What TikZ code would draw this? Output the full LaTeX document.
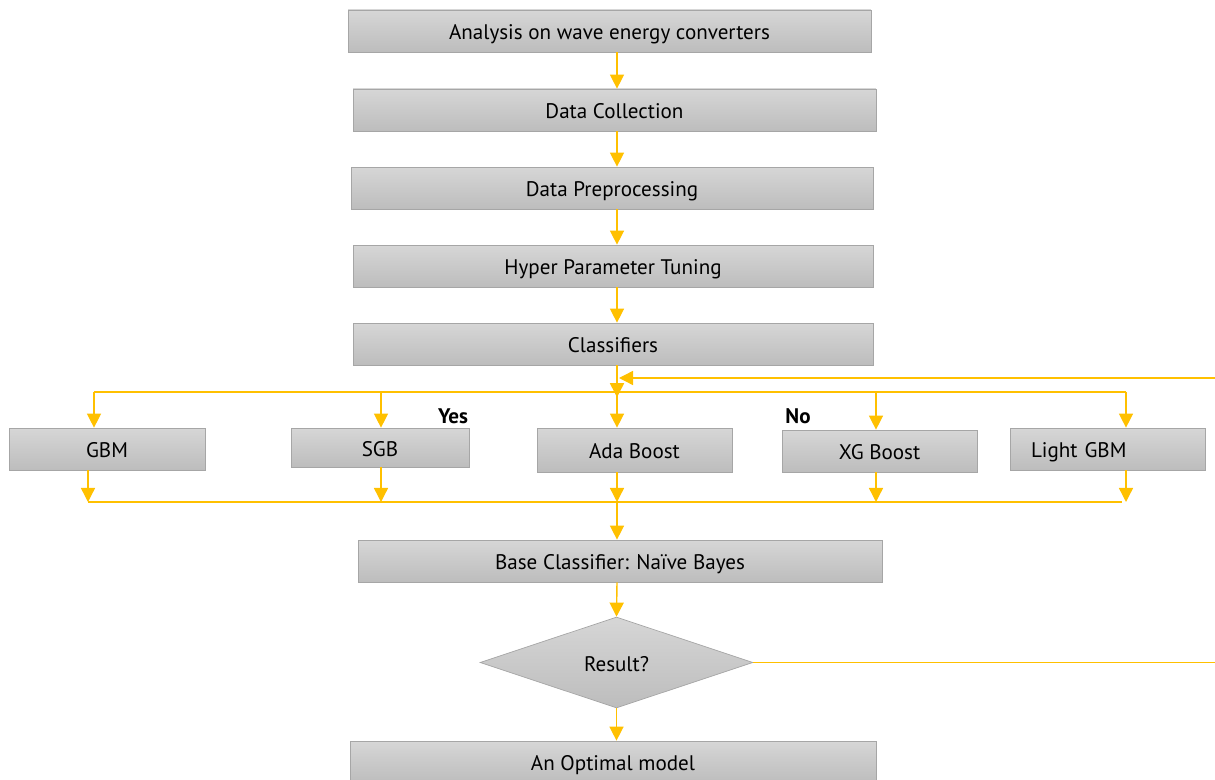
\documentclass[tikz,border=0pt]{standalone}
\usepackage{fontspec}
\setmainfont{PT Sans}
\usetikzlibrary{arrows.meta,shapes.geometric}
\definecolor{gold}{HTML}{FFC000}
\definecolor{boxedge}{HTML}{A6A6A6}
\tikzset{
  stage/.style={draw=boxedge,top color=black!16,bottom color=black!26,inner sep=0pt,text height=2ex,text depth=0ex,font=\fontsize{12}{14}\selectfont},
  decide/.style={stage,diamond,aspect=3},
  wire/.style={draw=gold,line width=0.8pt},
  flow/.style={wire,-{Triangle[length=8pt,width=8pt]}},
  tag/.style={font=\bfseries\fontsize{12}{14}\selectfont}
}
\begin{document}
\begin{tikzpicture}[x=0.02cm,y=-0.02cm]
          \clip (0,0) rectangle (1215,780);
          \node[stage,minimum width=10.46cm,minimum height=0.84cm] (analysis) at (609.5,31) {Analysis on wave energy converters};
          \node[stage,minimum width=10.46cm,minimum height=0.84cm] (collect) at (614.5,110) {Data Collection};
          \node[stage,minimum width=10.44cm,minimum height=0.84cm] (prep) at (612,188) {Data Preprocessing};
          \node[stage,minimum width=10.4cm,minimum height=0.84cm] (tune) at (613,266) {Hyper Parameter Tuning};
          \node[stage,minimum width=10.4cm,minimum height=0.84cm] (classif) at (613,344) {Classifiers};

          \node[stage,minimum width=3.92cm,minimum height=0.84cm] (gbm) at (107,449) {GBM};
          \node[stage,minimum width=3.56cm,minimum height=0.78cm] (sgb) at (380,447.5) {SGB};
          \node[stage,minimum width=3.9cm,minimum height=0.88cm] (ada) at (634.5,450) {Ada Boost};
          \node[stage,minimum width=3.9cm,minimum height=0.84cm] (xg) at (879.5,451) {XG Boost};
          \node[stage,text width=3.06cm,inner xsep=0.42cm,align=left,minimum height=0.84cm] (light) at (1107.5,449) {Light GBM};

          \node[stage,minimum width=10.48cm,minimum height=0.84cm] (base) at (620,561) {Base Classifier: Naïve Bayes};
          \node[decide,minimum width=5.46cm,minimum height=1.82cm] (result) at (616.5,662.5) {Result?};
          \node[stage,minimum width=10.52cm,minimum height=0.84cm] (optimal) at (613,762) {An Optimal model};

          \node[tag] (yes) at (453,416) {Yes};
          \node[tag] (no) at (798,416) {No};

          \coordinate (mid) at (617,0);
          \coordinate (split) at (617,392);
          \coordinate (join) at (617,502);
          \coordinate (back) at (619,378);
          \coordinate (edge) at (1225,0);

          \draw[flow] (analysis.south -| mid) -- (collect.north -| mid);
          \draw[flow] (collect.south -| mid) -- (prep.north -| mid);
          \draw[flow] (prep.south -| mid) -- (tune.north -| mid);
          \draw[flow] (tune.south -| mid) -- (classif.north -| mid);
          \draw[flow] (classif.south -| mid) -- ([yshift=-3pt]split);

          \draw[wire] (94,392) coordinate (s1) -- (1126,392) coordinate (s5);
          \draw[flow] (s1) -- (gbm.north -| s1);
          \draw[flow] (381,392) coordinate (s2) -- (sgb.north -| s2);
          \draw[flow] (split) -- (ada.north -| split);
          \draw[flow] (876,392) coordinate (s4) -- (xg.north -| s4);
          \draw[flow] (s5) -- (light.north -| s5);

          \draw[wire] (88,502) coordinate (j1) -- (1122,502) coordinate (j5);
          \draw[flow] (gbm.south -| j1) -- (j1);
          \draw[flow] (sgb.south -| s2) -- (s2 |- join);
          \draw[flow] (ada.south -| join) -- (join);
          \draw[flow] (xg.south -| s4) -- (s4 |- join);
          \draw[flow] (light.south -| s5) -- (s5 |- join);
          \draw[flow] (join) -- (base.north -| join);

          \draw[flow] (base.south -| mid) -- (result.north);
          \draw[flow] (result.south) -- (optimal.north -| result.south);
          \draw[flow] (result.east) -- (result.east -| edge) -- (edge |- back) -- (back);
\end{tikzpicture}
\end{document}
